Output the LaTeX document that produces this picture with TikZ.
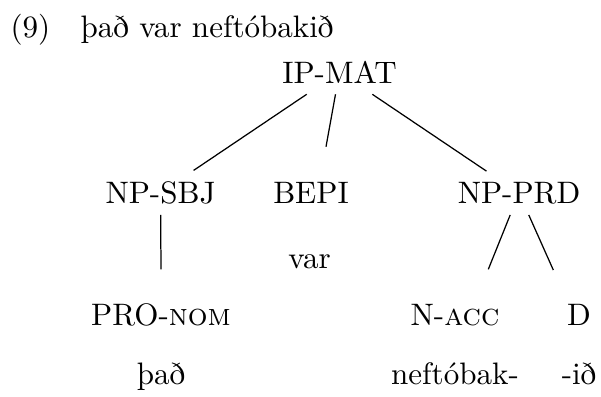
\documentclass[tikz,border=0pt]{standalone}
\usepackage{fontspec}
\usepackage{tikz}
\usetikzlibrary{calc}

\tikzset{
	cat/.style={anchor=base},
	exnum/.style={anchor=base west, inner sep=0pt},
}

\begin{document}
\begin{tikzpicture}[x=0.322pt, y=-0.322pt]
		\useasboundingbox (0,0) rectangle (601,396);
		\node at (10,37) [exnum] (num) {(9)};
		\node at (80,37) [exnum] (gloss) {það var neftóbakið};
		\node at (339.5,83.3) [cat] (ipmat) {IP-MAT};
		\node at (160.5,203.3) [cat] (npsbj) {NP-SBJ};
		\node at (311,203.3) [cat] (bepi) {BEPI};
		\node at (519,203.3) [cat] (npprd) {NP-PRD};
		\node at (309.5,268) [cat] (var) {var};
		\node at (161,325.5) [cat] (pronom) {PRO-\textsc{nom}};
		\node at (455,325.5) [cat] (nacc) {N-\textsc{acc}};
		\node at (579,325.5) [cat] (d) {D};
		\node at (161,384) [cat] (thad) {það};
		\node at (455,384) [cat] (neft) {neftóbak-};
		\node at (579,384) [cat] (idh) {-ið};
		%\node at (310,146.7) (bepiend) {};
		\coordinate (bepiend) at (326,146.7);
		\coordinate (pronomend) at (161,269.3);
		\coordinate (naccend) at (488.3,269.3);
		\coordinate (dend) at (553.3,270);
		\draw (ipmat) -- (npsbj) (ipmat) -- (bepiend) (ipmat) -- (npprd);
		\draw (npsbj) -- (pronomend) (npprd) -- (naccend) (npprd) -- (dend);
		\end{tikzpicture}
\end{document}
